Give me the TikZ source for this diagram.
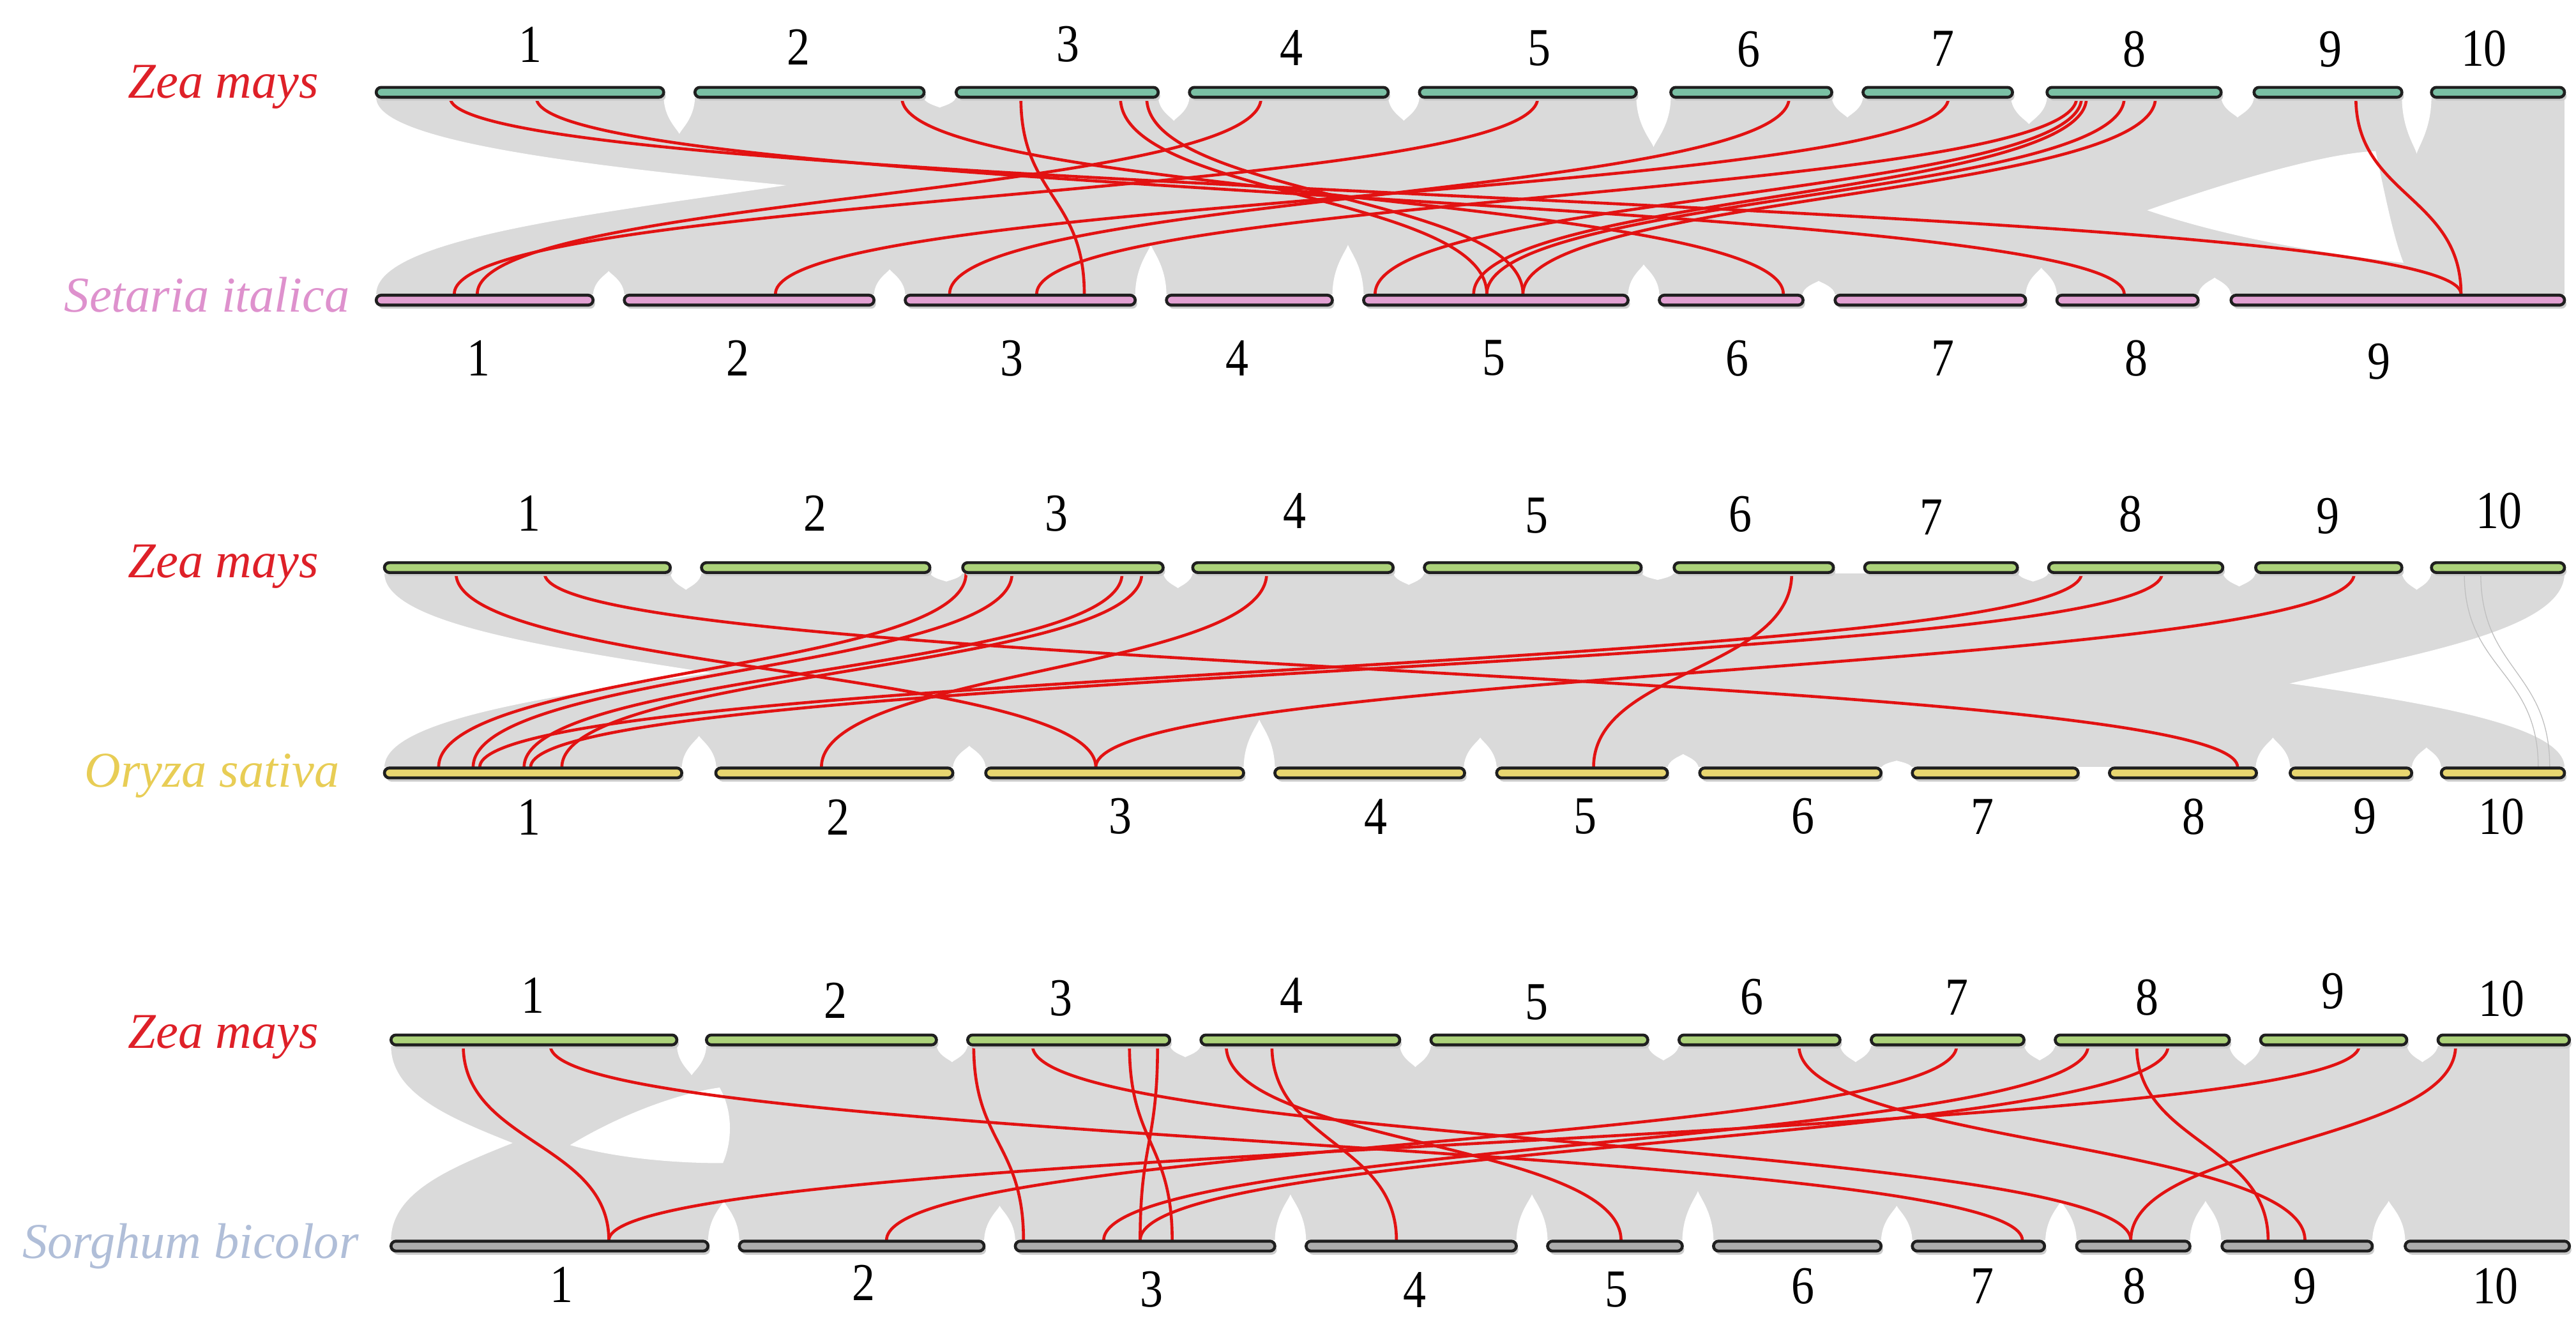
\documentclass[tikz,border=0pt]{standalone}
\usepackage{fontspec}
\setmainfont{Liberation Serif}
\definecolor{zeaT}{RGB}{122,192,164}
\definecolor{setP}{RGB}{226,160,210}
\definecolor{zeaG}{RGB}{172,210,122}
\definecolor{oryY}{RGB}{232,214,112}
\definecolor{sorG}{RGB}{172,172,172}
\definecolor{redL}{RGB}{226,18,18}
\definecolor{synG}{RGB}{218,218,218}
\definecolor{labR}{RGB}{222,32,40}
\definecolor{labP}{RGB}{222,145,205}
\definecolor{labY}{RGB}{232,205,85}
\definecolor{labS}{RGB}{176,190,216}
\newcommand\redlink[2]{\draw[redlnk] (#1,\synT) .. controls (#1,\synM) and (#2,\synM) .. (#2,\synB);}
\newcommand\topnotch[3]{\fill[white] (#1,{\synT-1}) .. controls (#1,{\synT+0.55*#3}) and ({(#1+#2)/2-0.08*(#2-#1)},{\synT+0.85*#3}) .. ({(#1+#2)/2},{\synT+#3}) .. controls ({(#1+#2)/2+0.08*(#2-#1)},{\synT+0.85*#3}) and (#2,{\synT+0.55*#3}) .. (#2,{\synT-1}) -- cycle;}
\newcommand\botnotch[3]{\fill[white] (#1,{\synB+1}) .. controls (#1,{\synB-0.55*#3}) and ({(#1+#2)/2-0.08*(#2-#1)},{\synB-0.85*#3}) .. ({(#1+#2)/2},{\synB-#3}) .. controls ({(#1+#2)/2+0.08*(#2-#1)},{\synB-0.85*#3}) and (#2,{\synB-0.55*#3}) .. (#2,{\synB+1}) -- cycle;}
\newcommand\leftwedge[3]{\begin{scope}
\clip (#1,\synT) .. controls (#1,\synM) and (#2,\synM) .. (#2,\synB) -- ({#1-5},\synB) -- ({#1-5},\synT) -- cycle;
\fill[white] (#1,\synB) .. controls (#1,\synM) and (#3,\synM) .. (#3,\synT) -- ({#1-5},\synT) -- ({#1-5},\synB) -- cycle;
\end{scope}}
\newcommand\rightwedge[3]{\begin{scope}
\clip (#1,\synT) .. controls (#1,\synM) and (#2,\synM) .. (#2,\synB) -- ({#1+5},\synB) -- ({#1+5},\synT) -- cycle;
\fill[white] (#1,\synB) .. controls (#1,\synM) and (#3,\synM) .. (#3,\synT) -- ({#1+5},\synT) -- ({#1+5},\synB) -- cycle;
\end{scope}}
\newcommand\chrom[4]{\fill[barshadow] ({#1+1.2},{#3-0.8}) rectangle ({#2+1.2},{#3+5.2});
\filldraw[barline,fill=#4] (#1,{#3-3}) rectangle (#2,{#3+3});}
\newcommand\chrnum[4]{\node[numlab] (#1) at (#2,#3) {\scalebox{0.86}[1]{#4}};}
\begin{document}
\begin{tikzpicture}[x=1pt,y=-1pt,
  redlnk/.style={draw=redL,line width=1.8pt},
  synbg/.style={fill=synG},
  synthin/.style={draw=black!25,line width=0.5pt},
  barshadow/.style={fill=black!20,rounded corners=3pt},
  barline/.style={draw=black!88,line width=1.8pt,rounded corners=3pt},
  numlab/.style={inner sep=0pt,font=\fontsize{32.5}{36}\selectfont},
  spec/.style={inner sep=0pt,anchor=base,font=\fontsize{30.5}{36}\selectfont\itshape}]
\useasboundingbox (0,0) rectangle (1568,802);
\fill[white] (0,0) rectangle (1568,802);
% ================= Panel 1 : Zea mays vs Setaria italica
\def\synT{59.5}\def\synB{179}\def\synM{119.25}
\fill[synbg] (229,\synT) rectangle (1561,\synB);
\leftwedge{229}{864}{640}
\fill[white] (1307,128) .. controls (1370,106) and (1420,93) .. (1446,92) .. controls (1452,120) and (1457,145) .. (1463,160) .. controls (1420,155) and (1360,146) .. (1307,128) -- cycle;
\topnotch{404}{423}{22}\topnotch{562}{582}{6}\topnotch{705}{724}{14}\topnotch{845}{864}{14}\topnotch{996}{1017}{30}
\topnotch{1115}{1134}{12}\topnotch{1224}{1246}{16}\topnotch{1352}{1372}{12}\topnotch{1462}{1480}{34}
\botnotch{361}{380}{14}\botnotch{532}{551}{15}\botnotch{691}{710}{30}\botnotch{811}{830}{30}\botnotch{991}{1010}{18}
\botnotch{1097}{1117}{8}\botnotch{1233}{1252}{16}\botnotch{1338}{1358}{10}
\redlink{274}{1498}\redlink{326.5}{1293}\redlink{549}{1085.5}\redlink{621.4}{660}
\redlink{682}{905}\redlink{698}{927}\redlink{767.6}{290.5}\redlink{936}{276.5}
\redlink{1089}{578}\redlink{1186}{472}\redlink{1264}{631}\redlink{1267}{837}
\redlink{1270}{897}\redlink{1293}{905}\redlink{1312}{927}\redlink{1434}{1498}
\chrom{229}{404}{56.2}{zeaT}\chrom{423}{562.5}{56.2}{zeaT}\chrom{582}{705}{56.2}{zeaT}\chrom{724}{845}{56.2}{zeaT}
\chrom{864}{996}{56.2}{zeaT}\chrom{1017}{1115}{56.2}{zeaT}\chrom{1134}{1225}{56.2}{zeaT}\chrom{1246}{1352}{56.2}{zeaT}
\chrom{1372}{1462}{56.2}{zeaT}\chrom{1480}{1561}{56.2}{zeaT}
\chrom{229}{361}{182.7}{setP}\chrom{380}{532}{182.7}{setP}\chrom{551}{691}{182.7}{setP}\chrom{710}{811}{182.7}{setP}
\chrom{830}{991}{182.7}{setP}\chrom{1010}{1097.5}{182.7}{setP}\chrom{1117}{1233}{182.7}{setP}\chrom{1252}{1338}{182.7}{setP}
\chrom{1358}{1561}{182.7}{setP}
\node[spec,text=labR] (sp1a) at (136,59.5) {Zea mays};
\node[spec,text=labP] (sp1b) at (126,190) {Setaria italica};
\chrnum{a1}{322.7}{27}{1}\chrnum{a2}{486}{28.6}{2}\chrnum{a3}{650}{26.8}{3}\chrnum{a4}{786}{29}{4}\chrnum{a5}{937}{29.5}{5}
\chrnum{a6}{1064.5}{30}{6}\chrnum{a7}{1182.6}{29.5}{7}\chrnum{a8}{1299}{30}{8}\chrnum{a9}{1418.6}{30}{9}\chrnum{a10}{1512}{29.5}{10}
\chrnum{b1}{291.5}{218}{1}\chrnum{b2}{449}{218}{2}\chrnum{b3}{616}{218}{3}\chrnum{b4}{753}{218}{4}\chrnum{b5}{909.5}{218}{5}
\chrnum{b6}{1057.6}{218}{6}\chrnum{b7}{1182.6}{218}{7}\chrnum{b8}{1300.5}{218}{8}\chrnum{b9}{1448}{220}{9}
% ================= Panel 2 : Zea mays vs Oryza sativa
\def\synT{349}\def\synB{467}\def\synM{408}
\fill[synbg] (234,\synT) rectangle (1561,\synB);
\leftwedge{234}{611}{656}
\rightwedge{1561}{1297}{1105}
\draw[synthin] (1500,\synT) .. controls (1500,\synM) and (1545,\synM) .. (1545,\synB);
\draw[synthin] (1510,\synT) .. controls (1510,\synM) and (1552,\synM) .. (1552,\synB);
\topnotch{408}{427}{10}\topnotch{566}{586}{5}\topnotch{708}{726}{9}\topnotch{848}{867}{7}\topnotch{999}{1019}{4}
\topnotch{1228}{1247}{5}\topnotch{1353}{1373}{8}\topnotch{1462}{1480}{10}
\botnotch{415}{436}{19}\botnotch{580}{600}{13}\botnotch{757}{776}{29}\botnotch{891}{911}{18}\botnotch{1015}{1034}{8}
\botnotch{1145}{1164}{4}\botnotch{1373}{1394}{18}\botnotch{1468}{1486}{12}
\redlink{277.6}{667}\redlink{331.5}{1362}\redlink{588}{267}\redlink{616}{288}
\redlink{683}{319}\redlink{695}{342}\redlink{771}{500}\redlink{1090.6}{970}
\redlink{1267}{292}\redlink{1316}{323}\redlink{1433}{667}
\chrom{234}{408}{345.5}{zeaG}\chrom{427}{566}{345.5}{zeaG}\chrom{586}{708}{345.5}{zeaG}\chrom{726}{848}{345.5}{zeaG}
\chrom{867}{999}{345.5}{zeaG}\chrom{1019}{1116}{345.5}{zeaG}\chrom{1135}{1228}{345.5}{zeaG}\chrom{1247}{1353}{345.5}{zeaG}
\chrom{1373}{1462}{345.5}{zeaG}\chrom{1480}{1561}{345.5}{zeaG}
\chrom{234}{415}{470.5}{oryY}\chrom{435.7}{580}{470.5}{oryY}\chrom{600}{757}{470.5}{oryY}\chrom{776}{891.5}{470.5}{oryY}
\chrom{911}{1015}{470.5}{oryY}\chrom{1034.6}{1145}{470.5}{oryY}\chrom{1164}{1265}{470.5}{oryY}\chrom{1284}{1373.5}{470.5}{oryY}
\chrom{1394}{1468}{470.5}{oryY}\chrom{1486}{1561}{470.5}{oryY}
\node[spec,text=labR] (sp2a) at (136,351.6) {Zea mays};
\node[spec,text=labY] (sp2b) at (129,479) {Oryza sativa};
\chrnum{c1}{322}{312.5}{1}\chrnum{c2}{496}{312.5}{2}\chrnum{c3}{643}{312.5}{3}\chrnum{c4}{788}{311}{4}\chrnum{c5}{935.5}{314}{5}
\chrnum{c6}{1059.5}{313}{6}\chrnum{c7}{1175.7}{315}{7}\chrnum{c8}{1297}{313}{8}\chrnum{c9}{1416.8}{314}{9}\chrnum{c10}{1521}{311}{10}
\chrnum{d1}{322}{497.6}{1}\chrnum{d2}{510}{497.6}{2}\chrnum{d3}{682}{497}{3}\chrnum{d4}{837.6}{497}{4}\chrnum{d5}{965}{497}{5}
\chrnum{d6}{1097.6}{497}{6}\chrnum{d7}{1206.8}{497}{7}\chrnum{d8}{1335.4}{497}{8}\chrnum{d9}{1439.4}{497}{9}\chrnum{d10}{1522.7}{497}{10}
% ================= Panel 3 : Zea mays vs Sorghum bicolor
\def\synT{636.5}\def\synB{755}\def\synM{695.75}
\fill[synbg] (238,\synT) rectangle (1564,\synB);
\leftwedge{238}{386}{386}
\fill[white] (347,697) .. controls (375,680) and (410,666) .. (438,662) .. controls (446,676) and (446,694) .. (440,708) .. controls (405,708) and (372,704) .. (347,697) -- cycle;
\topnotch{412}{430}{18}\topnotch{570}{589}{10}\topnotch{712}{731}{7}\topnotch{852}{871}{13}\topnotch{1003}{1022}{9}
\topnotch{1120}{1139}{10}\topnotch{1232}{1251}{9}\topnotch{1357}{1376}{12}\topnotch{1465}{1484}{10}
\botnotch{431}{450}{24}\botnotch{599}{618}{21}\botnotch{776}{795}{28}\botnotch{923}{942}{28}\botnotch{1024}{1043}{30}
\botnotch{1145}{1164}{21}\botnotch{1245}{1264}{24}\botnotch{1333}{1352}{24}\botnotch{1444}{1464}{24}
\redlink{282}{370.6}\redlink{335}{1231}\redlink{592.7}{623}\redlink{628.5}{1297}
\redlink{687.5}{713.5}\redlink{704.6}{694}\redlink{746.4}{986.7}\redlink{774.2}{850}
\redlink{1095}{1403}\redlink{1191}{539.6}\redlink{1271}{671.8}\redlink{1300.6}{1380.6}
\redlink{1319.7}{694}\redlink{1436}{370.6}\redlink{1494.7}{1297}
\chrom{238}{412}{633}{zeaG}\chrom{430}{570}{633}{zeaG}\chrom{589}{712}{633}{zeaG}\chrom{731}{852}{633}{zeaG}
\chrom{871}{1003}{633}{zeaG}\chrom{1022}{1120}{633}{zeaG}\chrom{1139}{1232}{633}{zeaG}\chrom{1251}{1357}{633}{zeaG}
\chrom{1376}{1465}{633}{zeaG}\chrom{1484}{1564}{633}{zeaG}
\chrom{238}{431}{758.5}{sorG}\chrom{450}{599}{758.5}{sorG}\chrom{618}{776}{758.5}{sorG}\chrom{795}{923}{758.5}{sorG}
\chrom{942}{1024}{758.5}{sorG}\chrom{1043}{1145}{758.5}{sorG}\chrom{1164}{1244.5}{758.5}{sorG}\chrom{1264}{1333}{758.5}{sorG}
\chrom{1352.5}{1444}{758.5}{sorG}\chrom{1464}{1564}{758.5}{sorG}
\node[spec,text=labR] (sp3a) at (136,638) {Zea mays};
\node[spec,text=labS] (sp3b) at (116,766) {Sorghum bicolor};
\chrnum{e1}{324.4}{606}{1}\chrnum{e2}{508.4}{609}{2}\chrnum{e3}{645.8}{607.7}{3}\chrnum{e4}{786}{606}{4}\chrnum{e5}{935.5}{610}{5}
\chrnum{e6}{1066.4}{607}{6}\chrnum{e7}{1191}{607}{7}\chrnum{e8}{1307}{607}{8}\chrnum{e9}{1420}{603.5}{9}\chrnum{e10}{1522.7}{608}{10}
\chrnum{f1}{341.8}{782}{1}\chrnum{f2}{525.7}{781}{2}\chrnum{f3}{701}{785}{3}\chrnum{f4}{861}{785}{4}\chrnum{f5}{984}{785}{5}
\chrnum{f6}{1097.6}{783}{6}\chrnum{f7}{1206.8}{783}{7}\chrnum{f8}{1299}{783}{8}\chrnum{f9}{1403}{783}{9}\chrnum{f10}{1519}{783}{10}
\end{tikzpicture}
\end{document}
